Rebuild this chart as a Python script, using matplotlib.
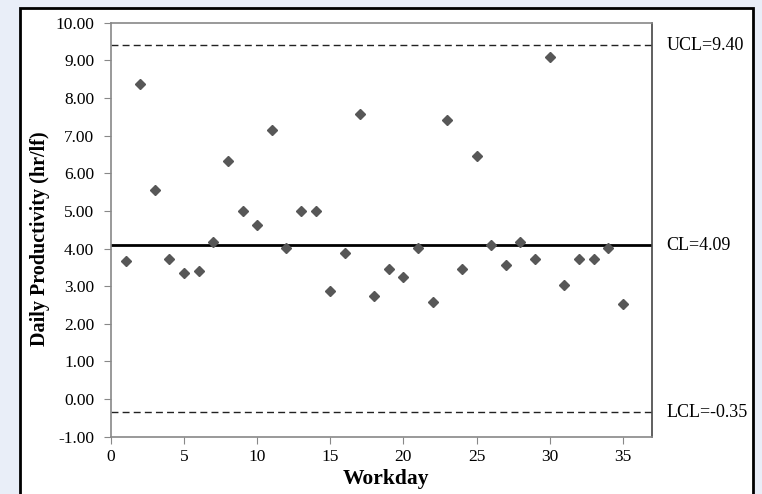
import matplotlib.pyplot as plt
from matplotlib.patches import Rectangle

workday = list(range(1, 36))
productivity = [3.68, 8.37, 5.56, 3.71, 3.34, 3.40, 4.16, 6.33, 5.01, 4.63,
                7.15, 4.02, 5.00, 5.00, 2.87, 3.89, 7.57, 2.75, 3.45, 3.25,
                4.02, 2.57, 7.42, 3.46, 6.46, 4.09, 3.57, 4.16, 3.71, 9.10,
                3.03, 3.71, 3.71, 4.02, 2.52]
ucl = 9.40
cl = 4.09
lcl = -0.35
limit_labels = ["UCL=9.40", "CL=4.09", "LCL=-0.35"]

plt.rcParams['font.family'] = ['Liberation Serif', 'DejaVu Serif']

fig = plt.figure(figsize=(7.62, 4.94), dpi=100)
fig.patch.set_facecolor('#e9eef8')

# white panel with black frame
panel = Rectangle((20 / 762, -0.05), (753 - 20) / 762, 1 - 8 / 494 + 0.05,
                  transform=fig.transFigure, facecolor='white',
                  edgecolor='black', linewidth=2, zorder=-10)
fig.patches.append(panel)

ax = fig.add_axes([111 / 762, 1 - 436.7 / 494, (652 - 111) / 762, (436.7 - 22.7) / 494])
ax.set_zorder(5)
ax.set_facecolor('white')

ax.axhline(ucl, color='#222222', linestyle=(0, (5, 3)), linewidth=1)
ax.axhline(cl, color='black', linewidth=2)
ax.axhline(lcl, color='#222222', linestyle=(0, (5, 3)), linewidth=1)

ax.plot(workday, productivity, linestyle='none', marker='D', markersize=5.5,
        color='#575757', zorder=3)

ax.set_xlim(0, 37)
ax.set_ylim(-1, 10)
ax.set_xticks(range(0, 36, 5))
ax.set_yticks(range(-1, 11))
ax.set_yticklabels([f"{v:.2f}" for v in range(-1, 11)])
ax.tick_params(direction='out', length=5, color='#888888', labelsize=12.5,
               labelcolor='black')
ax.tick_params(axis='y', pad=7)

for s in ['left', 'bottom', 'top']:
    ax.spines[s].set_color('#888888')
ax.spines['right'].set_color('#444444')
for s in ax.spines.values():
    s.set_linewidth(1.2)

ax.set_xlabel("Workday", fontsize=15.5, fontweight='bold')
ax.xaxis.set_label_coords(0.508, -0.078)
ax.set_ylabel("Daily Productivity (hr/lf)", fontsize=14.5, fontweight='bold')
ax.yaxis.set_label_coords(-0.113, 0.479)

for val, lab in zip([ucl, cl, lcl], limit_labels):
    ax.text(1.027, val, lab, transform=ax.get_yaxis_transform(),
            fontsize=13, va='center', ha='left')

fig.savefig('out.png', dpi=100, facecolor=fig.get_facecolor())
